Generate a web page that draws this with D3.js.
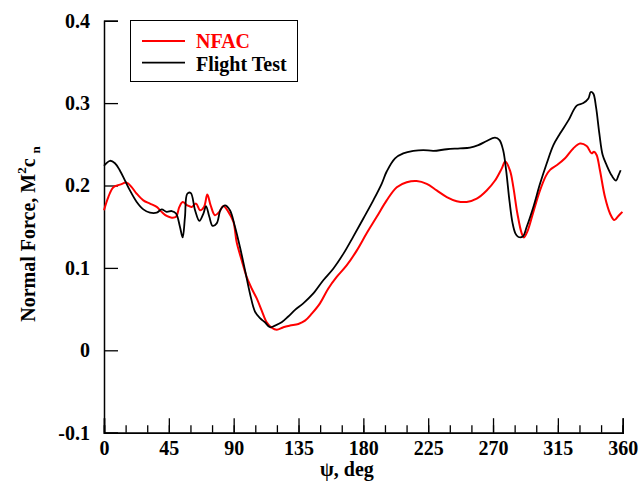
<!DOCTYPE html>
<html><head><meta charset="utf-8">
<script src="https://cdn.jsdelivr.net/npm/d3@7"></script>
<style>
body{margin:0;background:#fff;}
svg text{font-family:"Liberation Serif","Times New Roman",serif;font-weight:bold;}
</style></head>
<body>
<svg id="chart" width="639" height="487"></svg>
<script>
const xTicks = [0, 45, 90, 135, 180, 225, 270, 315, 360];
const xMinorTicks = d3.range(0, 361, 15);
const yTicks = [-0.1, 0, 0.1, 0.2, 0.3, 0.4];
const yTickLabels = ["-0.1", "0", "0.1", "0.2", "0.3", "0.4"];

const nfacPsi = [0,3,6.5,11.1,15.7,19.2,22.7,27.3,31.9,36.6,40,43.5,47,50,52.3,54.6,57.8,60.9,63.9,66.6,69.4,71.7,74,77,80,82.8,86.3,89.8,92.1,95.6,99,102.5,106,109.4,112.9,116.4,119.9,124.5,129.1,134.9,139.5,144.2,149.9,155.7,161.5,168.4,175.4,182.3,189.3,196.2,203.2,210.1,217,224,230.9,237.9,244.8,251.7,258.7,265.6,271.4,276,278.5,281.8,284.1,286.9,289.9,291.5,293.8,298,302.6,306.8,309.6,314.2,320,325.7,330.4,335,338.4,340.1,341.9,344.2,347.7,351.2,354.2,357,359.8];
const nfacCn = [0.170,0.186,0.198,0.201,0.2035,0.198,0.190,0.182,0.178,0.174,0.168,0.163,0.161,0.162,0.174,0.180,0.176,0.174,0.178,0.170,0.174,0.189,0.176,0.164,0.168,0.175,0.168,0.156,0.131,0.109,0.089,0.075,0.063,0.0485,0.034,0.0275,0.025,0.028,0.030,0.032,0.036,0.0445,0.057,0.075,0.089,0.103,0.121,0.142,0.162,0.182,0.198,0.204,0.2055,0.202,0.194,0.186,0.181,0.180,0.184,0.194,0.206,0.2205,0.229,0.218,0.198,0.166,0.142,0.137,0.144,0.168,0.194,0.212,0.219,0.2245,0.233,0.245,0.251,0.248,0.239,0.241,0.237,0.2185,0.186,0.166,0.158,0.163,0.168];

const flightPsi = [0,4.2,7.6,11.1,14.6,18,22.7,27.3,31.9,36.6,40,43.5,47,50,52.7,54.6,56.2,57.8,60.2,63.2,66.2,69,70.8,73.1,75.4,78.2,81,84,87.4,90.9,94.4,97.9,101.3,104.8,108.3,111.7,115.2,118.7,123.3,127.9,132.6,138.3,145.3,152.2,159.1,166.1,173,180,186.9,192.7,196.2,202,207.7,214.7,221.6,228.6,237.9,247.1,254,259.8,265.6,271.4,274.5,277,279,281.5,283.5,285.5,287.6,290.6,293.4,298,302.6,307.3,311.9,316.5,322.3,328.1,332.7,336.2,337.8,339.6,341.5,343.8,346.1,348.9,352.4,355.4,357,358.6];
const flightCn = [0.224,0.230,0.227,0.218,0.206,0.194,0.180,0.171,0.167,0.167,0.171,0.168,0.169,0.166,0.150,0.137,0.162,0.190,0.191,0.170,0.157,0.166,0.175,0.162,0.151,0.154,0.171,0.176,0.170,0.150,0.125,0.097,0.069,0.047,0.039,0.034,0.028,0.030,0.034,0.041,0.049,0.057,0.069,0.085,0.099,0.117,0.138,0.160,0.182,0.202,0.217,0.233,0.239,0.242,0.243,0.242,0.244,0.245,0.246,0.249,0.254,0.258,0.255,0.243,0.220,0.180,0.155,0.142,0.1375,0.138,0.150,0.174,0.202,0.227,0.249,0.263,0.279,0.297,0.300,0.3055,0.3135,0.3115,0.295,0.263,0.237,0.2245,0.212,0.206,0.212,0.2185];

const seriesNames = ["NFAC", "Flight Test"];
const seriesColors = ["#ff0000", "#000000"];

const FS = 20;
const svg = d3.select("#chart");
const x = d3.scaleLinear().domain([0, 360]).range([104, 622.7]);
const y = d3.scaleLinear().domain([-0.1, 0.4]).range([432.7, 20.7]);

// axes
const gx = svg.append("g").attr("transform", `translate(0,${y(-0.1)})`);
gx.call(d3.axisTop(x).tickValues(xMinorTicks).tickSize(7.5).tickFormat(""));
gx.append("g").call(d3.axisTop(x).tickValues(xTicks).tickSize(14.5).tickFormat(""));
gx.selectAll("path.domain").attr("stroke", "#000").attr("stroke-width", 1.5);
gx.selectAll("line").attr("stroke", "#000").attr("stroke-width", 1.3);
gx.append("g").call(d3.axisBottom(x).tickValues(xTicks).tickSize(0).tickPadding(8).tickFormat(d3.format("d")))
  .call(g => g.select(".domain").remove())
  .selectAll("text").attr("font-size", FS).attr("fill", "#000")
  .attr("font-family", "Liberation Serif").attr("font-weight", "bold");

const gy = svg.append("g").attr("transform", `translate(${x(0)},0)`);
gy.call(d3.axisRight(y).tickValues(yTicks).tickSize(14).tickFormat(""));
gy.selectAll("path.domain").attr("stroke", "#000").attr("stroke-width", 1.5);
gy.selectAll("line").attr("stroke", "#000").attr("stroke-width", 1.3);
gy.append("g").call(d3.axisLeft(y).tickValues(yTicks).tickSize(0).tickPadding(14).tickFormat((d, i) => yTickLabels[i]))
  .call(g => g.select(".domain").remove())
  .selectAll("text").attr("font-size", FS).attr("fill", "#000")
  .attr("font-family", "Liberation Serif").attr("font-weight", "bold");

// lines
const line = d3.line().x(d => x(d[0])).y(d => y(d[1])).curve(d3.curveCatmullRom.alpha(0.5));
const nfacData = nfacPsi.map((p, i) => [p, nfacCn[i]]);
const flightData = flightPsi.map((p, i) => [p, flightCn[i]]);
svg.append("path").datum(nfacData).attr("d", line).attr("fill", "none")
  .attr("stroke", seriesColors[0]).attr("stroke-width", 2);
svg.append("path").datum(flightData).attr("d", line).attr("fill", "none")
  .attr("stroke", seriesColors[1]).attr("stroke-width", 1.8);

// legend
const lg = svg.append("g");
lg.append("rect").attr("x", 130.5).attr("y", 20.5).attr("width", 167).attr("height", 61)
  .attr("fill", "#fff").attr("stroke", "#000").attr("stroke-width", 1);
const legY = [41, 62.7];
const legBase = [47.7, 70.5];
seriesNames.forEach((name, i) => {
  lg.append("line").attr("x1", 142).attr("x2", 185).attr("y1", legY[i]).attr("y2", legY[i])
    .attr("stroke", seriesColors[i]).attr("stroke-width", i === 0 ? 2 : 1.8);
  lg.append("text").attr("x", 196).attr("y", legBase[i]).attr("font-size", FS)
    .attr("fill", seriesColors[i]).text(name);
});

// axis titles
svg.append("text").attr("x", 347).attr("y", 476).attr("text-anchor", "middle")
  .attr("font-size", FS).attr("fill", "#000").text("ψ, deg");

const yt = svg.append("text").attr("transform", "translate(35,234) rotate(-90)")
  .attr("text-anchor", "middle").attr("font-size", FS).attr("fill", "#000");
yt.append("tspan").text("Normal Force, M");
yt.append("tspan").attr("dy", -9).attr("font-size", 13).text("2");
yt.append("tspan").attr("dy", 9).text("c");
yt.append("tspan").attr("dy", 5).attr("dx", 5).attr("font-size", 13).text("n");
</script>
</body></html>
